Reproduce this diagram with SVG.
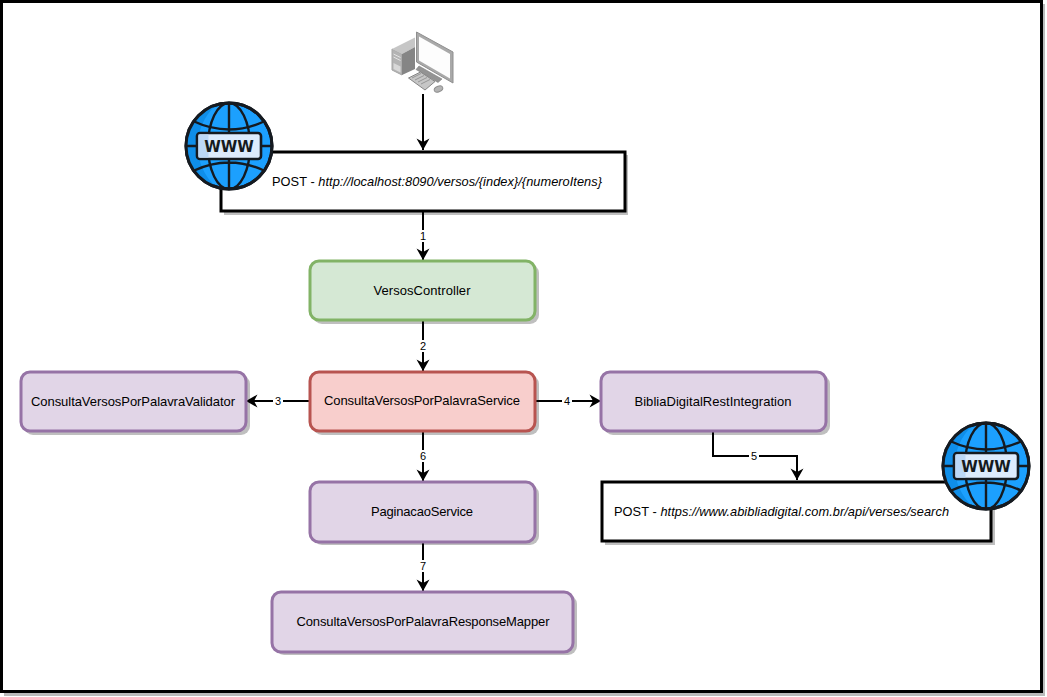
<svg xmlns="http://www.w3.org/2000/svg" width="1047" height="697" viewBox="0 0 1047 697">
<style>
text{font-family:"Liberation Sans",Arial,sans-serif;font-size:13px;fill:#000;text-anchor:middle}
.n{stroke-width:3}
.p{fill:#e1d5e7;stroke:#9673a6}
.sh{fill:#000;opacity:.25}
.c{fill:none;stroke:#000;stroke-width:2}
.l{font-size:11px}
.bx{fill:#fff;stroke:#000;stroke-width:3}
.g{fill:#1ca0fe;stroke:#151a20;stroke-width:3}
.gl{fill:none;stroke:#151a20;stroke-width:2.400}
.st{text-anchor:start;font-size:12.800px}
</style>
<defs>
<marker id="a" markerUnits="userSpaceOnUse" markerWidth="14" markerHeight="14" refX="12" refY="7" orient="auto"><path d="M0.500 0.500L12 7L0.500 13.500L4 7Z" fill="#000"/></marker>
<g id="globe">
<circle cx="0" cy="0" r="43" class="g"/>
<path d="M-14 -40A42 42 0 0 0 -14 40A55 55 0 0 1 -14 -40Z" fill="#0f8ee9"/>
<ellipse cx="0" cy="0" rx="21" ry="43" class="gl"/>
<path d="M0 -43V43M-43 0H43M-36 -25Q0 -8 36 -25M-36 25Q0 8 36 25" class="gl"/>
<circle cx="0" cy="0" r="43" fill="none" stroke="#151a20" stroke-width="3"/>
<rect x="-32" y="-13" width="64" height="26" rx="3" fill="#dcebfd" stroke="#151a20" stroke-width="2.600"/>
<rect x="-30.500" y="-11.500" width="10" height="23" fill="#bcd8f7"/>
<text x="0" y="5.500" style="font-family:'DejaVu Sans',sans-serif;font-size:15px;font-weight:700;fill:#151a20">WWW</text>
</g>
</defs>
<rect width="1047" height="697" fill="#fff"/>
<g id="frame">
<rect x="4" y="4" width="1041" height="692" fill="#bbb"/>
<rect x="1.500" y="1.500" width="1040" height="690" fill="#fff" stroke="#000" stroke-width="3"/>
</g>
<g id="computer">
<path d="M392 49L402 54V75L392 70Z" fill="#b4b4b4" stroke="#a5a5a5"/>
<path d="M402 54L415 47V37.500L392 49L402 54Z" fill="#c6c6c6"/>
<path d="M402 54L415 47V69L402 75Z" fill="#858585"/>
<path d="M393.500 54L400.500 57.500M393.500 57L400.500 60.500" stroke="#e4e4e4" fill="none"/>
<path d="M393.500 63L400.500 66.500V72.500L393.500 69Z" fill="#d8d8d8"/>
<path d="M416.500 32L453 52V83L416.500 62Z" fill="#a9a9a9" stroke="#8f8f8f"/>
<path d="M419 36.500L450 54V78.500L419 60.500Z" fill="#fdfdfd"/>
<path d="M419 66L442 79L438 82.500L416 69.500Z" fill="#939393" stroke="#808080" stroke-width=".6"/>
<path d="M408.500 78L420.500 72L435 81.500L425 90Z" fill="#c6c6c6" stroke="#858585"/>
<path d="M412 78L421 73.500M415 80L424 75.500M418 82L427 77.500M421 84L430 79.500" stroke="#969696" fill="none"/>
<ellipse cx="438.500" cy="89" rx="4.500" ry="2.800" fill="#b4b4b4" stroke="#8f8f8f" transform="rotate(-25 438.500 89)"/>
</g>
<g id="connectors">
<path class="c" d="M423 94V150" marker-end="url(#a)"/>
<path class="c" d="M423 212V260" marker-end="url(#a)"/>
<path class="c" d="M423 321V371" marker-end="url(#a)"/>
<path class="c" d="M309 401H246" marker-end="url(#a)"/>
<path class="c" d="M536 401H601" marker-end="url(#a)"/>
<path class="c" d="M423 432V481" marker-end="url(#a)"/>
<path class="c" d="M423 542V591" marker-end="url(#a)"/>
<path class="c" d="M713 432V456H797V480" marker-end="url(#a)"/>
<g class="labels">
<rect x="418" y="230" width="10" height="12" fill="#fff"/><text class="l" x="423" y="240">1</text>
<rect x="418" y="340" width="10" height="12" fill="#fff"/><text class="l" x="423" y="350">2</text>
<rect x="273" y="395" width="10" height="12" fill="#fff"/><text class="l" x="278" y="405">3</text>
<rect x="562" y="395" width="10" height="12" fill="#fff"/><text class="l" x="567" y="405">4</text>
<rect x="749" y="450" width="10" height="12" fill="#fff"/><text class="l" x="754" y="460">5</text>
<rect x="418" y="450" width="10" height="12" fill="#fff"/><text class="l" x="423" y="460">6</text>
<rect x="418" y="560" width="10" height="12" fill="#fff"/><text class="l" x="423" y="570">7</text>
</g>
</g>
<g id="post-local">
<rect x="224" y="155" width="404" height="60" fill="#000" opacity=".25"/>
<rect class="bx" x="221" y="152" width="404" height="59"/>
<text class="st" x="272" y="186" textLength="330"><tspan>POST - </tspan><tspan font-style="italic">http://localhost:8090/versos/{index}/{numeroItens}</tspan></text>
</g>
<g id="versos-controller">
<rect class="sh" x="313" y="264" width="226" height="60" rx="9"/>
<rect x="310" y="261" width="225" height="59" rx="9" fill="#d5e8d4" stroke="#82b366" stroke-width="3"/>
<text x="422" y="295" textLength="97">VersosController</text>
</g>
<g id="service">
<rect class="sh" x="313" y="375" width="226" height="60" rx="9"/>
<rect x="310" y="372" width="225" height="59" rx="9" fill="#f8cecc" stroke="#b85450" stroke-width="3"/>
<text x="422" y="405" textLength="196">ConsultaVersosPorPalavraService</text>
</g>
<g id="validator">
<rect class="sh" x="24" y="375" width="226" height="60" rx="9"/>
<rect class="p n" x="21" y="372" width="225" height="59" rx="9"/>
<text x="133" y="406" textLength="204">ConsultaVersosPorPalavraValidator</text>
</g>
<g id="integration">
<rect class="sh" x="604" y="375" width="226" height="60" rx="9"/>
<rect class="p n" x="601" y="372" width="225" height="59" rx="9"/>
<text x="713" y="406" textLength="157">BibliaDigitalRestIntegration</text>
</g>
<g id="paginacao">
<rect class="sh" x="313" y="485" width="226" height="60" rx="9"/>
<rect class="p n" x="310" y="482" width="225" height="60" rx="9"/>
<text x="422" y="516" textLength="102">PaginacaoService</text>
</g>
<g id="mapper">
<rect class="sh" x="275" y="595" width="302" height="60" rx="9"/>
<rect class="p n" x="272" y="592" width="301" height="60" rx="9"/>
<text x="423" y="626" textLength="253">ConsultaVersosPorPalavraResponseMapper</text>
</g>
<g id="post-biblia">
<rect x="605" y="485" width="390" height="60" fill="#000" opacity=".25"/>
<rect class="bx" x="602" y="482" width="389" height="59"/>
<text class="st" x="614" y="516" textLength="335"><tspan>POST - </tspan><tspan font-style="italic">https://www.abibliadigital.com.br/api/verses/search</tspan></text>
</g>
<g id="www-left"><use href="#globe" x="229" y="146"/></g>
<g id="www-right"><use href="#globe" x="986" y="466"/></g>
</svg>
